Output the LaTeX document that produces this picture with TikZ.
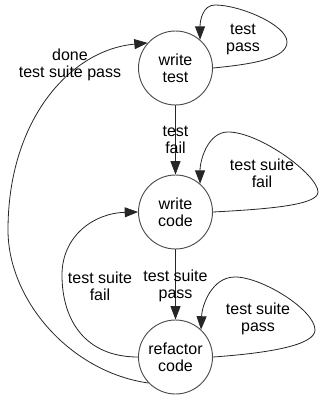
\documentclass[tikz,border=0pt]{standalone}
\usepackage{fontspec}
\setmainfont{Liberation Sans}
\usetikzlibrary{arrows.meta}
\begin{document}
\begin{tikzpicture}[x=0.75pt,y=-0.75pt,
  st/.style={circle,draw=black!70,line width=0.7pt,minimum size=55.5pt,inner sep=0pt,align=center,font=\fontsize{12}{12.75}\selectfont},
  lbl/.style={align=center,font=\fontsize{12}{12.75}\selectfont,inner sep=0pt},
  arr/.style={draw=black!85,line width=0.6pt,-{Triangle[length=10pt,width=7.5pt]}},
  ln/.style={draw=black!85,line width=0.6pt}]
\useasboundingbox (0,0) rectangle (320,395);
\node[st] (wt) at (175.5,68) {write\\test};
\node[st] (wc) at (175.5,212) {write\\code};
\node[st] (rc) at (175.5,357) {refactor\\code};
% straight edges
\draw[arr] (wt) -- (wc);
\node[lbl] (l1) at (175.5,140) {test\\fail};
\draw[arr] (wc) -- (rc);
\node[lbl] (l2) at (175.5,285.5) {test suite\\pass};
% self loops
\draw[arr] (wt.east) .. controls (255,64) and (287,58) .. (287,42) .. controls (287,25) and (240,5) .. (215,5) .. controls (203,5) and (200,20) .. (wt.49);
\node[lbl] (l3) at (243,39) {test\\pass};
\draw[arr] (wc.east) .. controls (270,209) and (318,205) .. (318,192) .. controls (318,175) and (260,132) .. (228,132) .. controls (208,132) and (200,160) .. (wc.49);
\node[lbl] (l4) at (262,173) {test suite\\fail};
\draw[arr] (rc.east) .. controls (270,353) and (315,345) .. (315,330) .. controls (315,310) and (262,277) .. (235,277) .. controls (212,277) and (202,305) .. (rc.47);
\node[lbl] (l5) at (258,318.5) {test suite\\pass};
% back edges
\draw[arr] (rc.west) .. controls (85,357) and (62,320) .. (62,275) .. controls (62,235) and (95,213) .. (wc.west);
\node[lbl] (l6) at (100,286) {test suite\\fail};
\draw[arr] (rc.224) .. controls (70,372) and (8,300) .. (8,230) .. controls (8,120) and (70,50) .. (wt.138);
\node[lbl] (l7) at (70,65) {done\\test suite pass};
\end{tikzpicture}
\end{document}
